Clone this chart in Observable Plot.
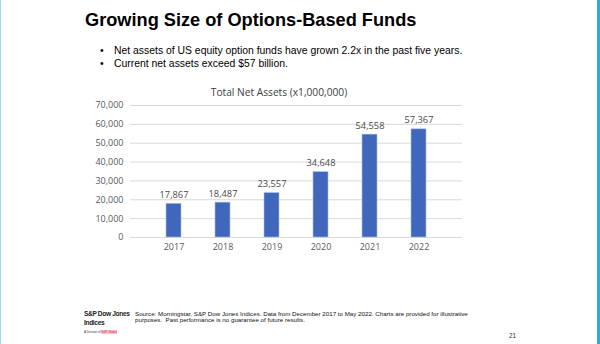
<!DOCTYPE html>
<html><head><meta charset="utf-8">
<script src="https://cdn.jsdelivr.net/npm/d3@7"></script>
<script src="https://cdn.jsdelivr.net/npm/@observablehq/plot@0.6"></script>
<style>
html,body{margin:0;padding:0;background:#fff;}
#wrap{position:relative;width:600px;height:344px;overflow:hidden;background:#fff;font-family:"Liberation Sans",Arial,sans-serif;}
#lb{position:absolute;left:0;top:0;width:1px;height:344px;background:#9fdcf5;}
#rb{position:absolute;left:597px;top:0;width:3px;height:344px;background:#2aa9e4;}
#title{position:absolute;left:85px;top:10px;font-size:18.2px;font-weight:bold;color:#000;white-space:nowrap;}
.bul{position:absolute;left:100px;font-size:10.4px;color:#000;white-space:nowrap;}
.bul span{display:inline-block;width:14px;}
#ctitle{position:absolute;left:0;width:558px;top:85px;text-align:center;font-family:"Open Sans",sans-serif;font-size:10.2px;color:#404040;white-space:nowrap;}
#chart{position:absolute;left:60px;top:95px;}
#logo{position:absolute;left:84px;top:310px;font-size:6.6px;font-weight:bold;color:#222;line-height:8.5px;letter-spacing:-0.35px;}
#logo2{position:absolute;left:84px;top:330px;font-size:3px;color:#333;}
#logo2 b{background:#f6c3cf;color:#e03050;font-weight:normal;}
#src{position:absolute;left:135px;top:311px;font-size:6.2px;color:#111;line-height:6px;white-space:nowrap;}
#pg{position:absolute;left:509px;top:332px;font-size:6.5px;color:#333;}
</style></head>
<body><div id="wrap">
<div id="lb"></div><div id="rb"></div>
<div id="title">Growing Size of Options-Based Funds</div>
<div class="bul" style="top:45px"><span>•</span>Net assets of US equity option funds have grown 2.2x in the past five years.</div>
<div class="bul" style="top:58px"><span>•</span>Current net assets exceed $57 billion.</div>
<div id="ctitle">Total Net Assets (x1,000,000)</div>
<div id="chart"></div>
<div id="logo">S&amp;P Dow Jones<br>Indices</div>
<div id="logo2">A Division of <b>S&amp;P Global</b></div>
<div id="src">Source: Morningstar, S&amp;P Dow Jones Indices. Data from December 2017 to May 2022. Charts are provided for illustrative<br>purposes.&nbsp; Past performance is no guarantee of future results.</div>
<div id="pg">21</div>
</div>
<script>
const years = ["2017","2018","2019","2020","2021","2022"];
const assets = [17867, 18487, 23557, 34648, 54558, 57367];
const yTicks = [0,10000,20000,30000,40000,50000,60000,70000];
const data = years.map((y,i)=>({year:y, value:assets[i]}));
const fmt = d3.format(",");
const chart = Plot.plot({
  width: 420, height: 165,
  marginLeft: 70, marginRight: 18, marginTop: 10, marginBottom: 23,
  style: {fontFamily: "'Open Sans', sans-serif", fontSize: "9px", color: "#595959", background: "transparent"},
  x: {domain: years, padding: 0.685, label: null, tickSize: 0, tickPadding: 6},
  y: {domain: [0,70000], ticks: yTicks, tickFormat: fmt, label: null, tickSize: 0, tickPadding: 7},
  marks: [
    Plot.gridY(yTicks, {stroke: "#d9d9d9", strokeOpacity: 1}),
    Plot.barY(data, {x: "year", y: "value", fill: "#4067BC", stroke: "#a9bfe8", strokeWidth: 0.6}),
    Plot.text(data, {x: "year", y: "value", text: d => fmt(d.value), dy: -9, fill: "#4a4a4a", fontSize: 9.3})
  ]
});
document.getElementById("chart").appendChild(chart);
</script>
</body></html>
